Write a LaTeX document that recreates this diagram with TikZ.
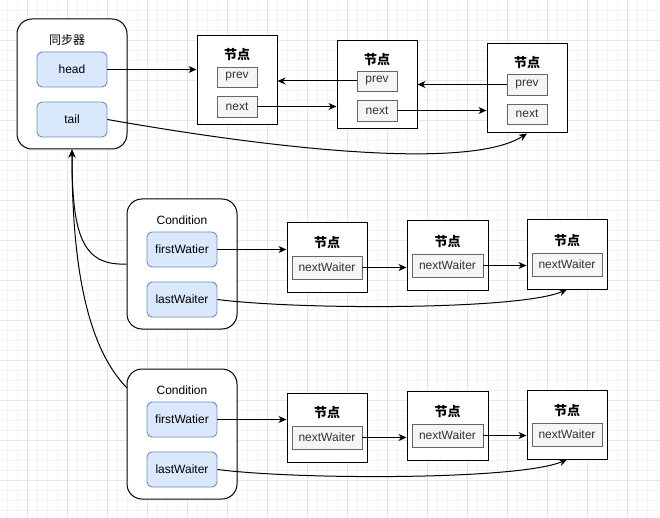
\documentclass[tikz,border=0pt]{standalone}
\usepackage{fontspec}
\setmainfont{Liberation Sans}
\newfontfamily\cjk{Noto Sans CJK SC}
\usetikzlibrary{arrows.meta}
\definecolor{gridminor}{HTML}{F4F4F4}
\definecolor{gridmajor}{HTML}{E6E6E6}
\definecolor{bluefill}{HTML}{DAE8FC}
\definecolor{bluedraw}{HTML}{6C8EBF}
\definecolor{fieldfill}{HTML}{F5F5F5}
\definecolor{fielddraw}{HTML}{666666}
\definecolor{fieldtext}{HTML}{333333}
\begin{document}
\begin{tikzpicture}[x=1pt,y=-1pt,
  group/.style={draw=black, fill=white, rounded corners=15pt, line width=1pt, inner sep=0pt, minimum width=110pt, minimum height=130pt},
  bluebox/.style={draw=bluedraw, fill=bluefill, rounded corners=5pt, line width=0.9pt, inner sep=0pt, minimum width=70pt, minimum height=35pt, font=\fontsize{12}{14}\selectfont},
  nodebox/.style={draw=black, fill=white, line width=1pt, inner sep=0pt},
  field/.style={draw=fielddraw, fill=fieldfill, text=fieldtext, line width=0.9pt, inner sep=0pt, font=\fontsize{12}{14}\selectfont},
  title/.style={font=\cjk\bfseries\fontsize{13}{15}\selectfont, inner sep=0pt},
  lbl/.style={font=\fontsize{12}{14}\selectfont, inner sep=0pt},
  arr/.style={-{Stealth[length=8pt,width=7pt,inset=2.5pt]}, line width=1pt},
  curv/.style={-{Stealth[length=8pt,width=7pt,inset=2.5pt]}, line width=1pt}
]
\useasboundingbox (0,0) rectangle (660,518);
\fill[white] (0,0) rectangle (660,518);
% grid
\foreach \x in {7,17,...,657} \draw[gridminor, line width=0.8pt] (\x,0) -- (\x,518);
\foreach \y in {10,20,...,510} \draw[gridminor, line width=0.8pt] (0,\y) -- (660,\y);
\foreach \x in {27,67,...,660} \draw[gridmajor, line width=0.8pt] (\x,0) -- (\x,518);
\foreach \y in {40,80,...,510} \draw[gridmajor, line width=0.8pt] (0,\y) -- (660,\y);

% synchronizer
\node[group] (sync) at (72,84) {};
\node[font=\cjk\fontsize{12}{14}\selectfont, inner sep=0pt] (synct) at (67,40) {同步器};
\node[bluebox] (head) at (72,69.5) {head};
\node[bluebox] (tail) at (72,119.5) {tail};

% top chain
\node[nodebox, minimum width=80pt, minimum height=89pt] (n1) at (237,80.5) {};
\node[title] (n1t) at (237,55) {节点};
\node[field, minimum width=40pt, minimum height=20pt] (n1prev) at (237,77) {prev};
\node[field, minimum width=40pt, minimum height=21pt] (n1next) at (237,106.5) {next};

\node[nodebox, minimum width=80pt, minimum height=88pt] (n2) at (377,85) {};
\node[title] (n2t) at (377,59.5) {节点};
\node[field, minimum width=40pt, minimum height=20pt] (n2prev) at (377,81) {prev};
\node[field, minimum width=40pt, minimum height=21pt] (n2next) at (377,110.5) {next};

\node[nodebox, minimum width=80pt, minimum height=89pt] (n3) at (527,88.5) {};
\node[title] (n3t) at (527,62.5) {节点};
\node[field, minimum width=40pt, minimum height=21pt] (n3prev) at (527,84.5) {prev};
\node[field, minimum width=40pt, minimum height=20pt] (n3next) at (527,114) {next};

\draw[arr] (head.east) -- (head.east -| n1.west);
\draw[arr] (n1next.east) -- (n1next.east -| n2.west);
\draw[arr] (n2prev.west) -- (n2prev.west -| n1.east);
\draw[arr] (n2next.east) -- (n2next.east -| n3.west);
\draw[arr] (n3prev.west) -- (n3prev.west -| n2.east);
\draw[curv] (tail.east) .. controls (280,150) and (470,170) .. (n3.south);

% condition 1
\node[group] (c1) at (182,264) {};
\node[lbl] (c1t) at (182,220) {Condition};
\node[bluebox] (c1first) at (182,249.5) {firstWatier};
\node[bluebox] (c1last) at (182,299.5) {lastWaiter};

\node[nodebox, minimum width=80pt, minimum height=69pt] (r1a) at (327,257.5) {};
\node[title] (r1at) at (327,243) {节点};
\node[field, minimum width=70pt, minimum height=23pt] (r1anw) at (327,267.5) {nextWaiter};
\node[nodebox, minimum width=81pt, minimum height=69pt] (r1b) at (447.5,255.5) {};
\node[title] (r1bt) at (447.5,241.5) {节点};
\node[field, minimum width=71pt, minimum height=23pt] (r1bnw) at (447.5,265.5) {nextWaiter};
\node[nodebox, minimum width=80pt, minimum height=69pt] (r1c) at (567,254.5) {};
\node[title] (r1ct) at (567,240.5) {节点};
\node[field, minimum width=70pt, minimum height=23pt] (r1cnw) at (567,264.5) {nextWaiter};

\draw[arr] (c1first.east) -- (c1first.east -| r1a.west);
\draw[arr] (r1anw.east) -- (r1anw.east -| r1b.west);
\draw[arr] (r1bnw.east) -- (r1bnw.east -| r1c.west);
\draw[curv] (c1last.east) .. controls (300,310) and (520,310) .. (r1c.south);

% condition 2
\node[group] (c2) at (182,434) {};
\node[lbl] (c2t) at (182,390) {Condition};
\node[bluebox] (c2first) at (182,419.5) {firstWatier};
\node[bluebox] (c2last) at (182,469.5) {lastWaiter};

\node[nodebox, minimum width=80pt, minimum height=69pt] (r2a) at (327,427.5) {};
\node[title] (r2at) at (327,413) {节点};
\node[field, minimum width=70pt, minimum height=23pt] (r2anw) at (327,437.5) {nextWaiter};
\node[nodebox, minimum width=81pt, minimum height=69pt] (r2b) at (447.5,425.5) {};
\node[title] (r2bt) at (447.5,411.5) {节点};
\node[field, minimum width=71pt, minimum height=23pt] (r2bnw) at (447.5,435.5) {nextWaiter};
\node[nodebox, minimum width=80pt, minimum height=69pt] (r2c) at (567,424.5) {};
\node[title] (r2ct) at (567,410.5) {节点};
\node[field, minimum width=70pt, minimum height=23pt] (r2cnw) at (567,434.5) {nextWaiter};

\draw[arr] (c2first.east) -- (c2first.east -| r2a.west);
\draw[arr] (r2anw.east) -- (r2anw.east -| r2b.west);
\draw[arr] (r2bnw.east) -- (r2bnw.east -| r2c.west);
\draw[curv] (c2last.east) .. controls (300,480) and (520,480) .. (r2c.south);

% condition links to tail
\coordinate (c2port) at (127,388);
\draw[curv] (c1.west) .. controls (82,266) and (72,235) .. (sync.south);
\draw[curv] (c2port) .. controls (80,340) and (72,240) .. (sync.south);
\end{tikzpicture}
\end{document}
